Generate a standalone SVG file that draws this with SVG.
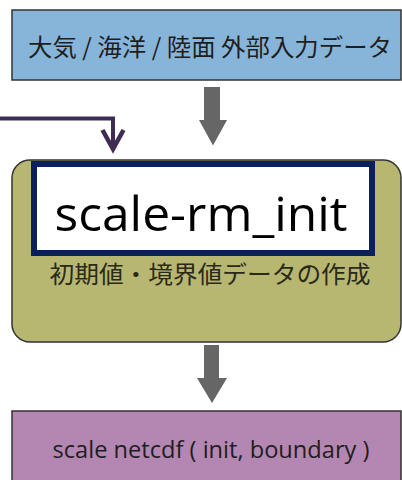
<svg xmlns="http://www.w3.org/2000/svg" width="402" height="480" viewBox="0 0 402 480">
  <style>
    .box { stroke: #333333; stroke-width: 1.5; }
    .jp { font-family: "Noto Sans CJK JP", "Noto Sans", sans-serif; }
    .lat { font-family: "Open Sans", "Liberation Sans", sans-serif; }
    .flow { fill: #666666; }
  </style>
  <rect width="402" height="480" fill="#ffffff"/>

  <g id="input-data">
    <rect class="box" x="12" y="10" width="389" height="70" fill="#87b5d9"/>
    <text class="jp" x="210" y="56" font-size="24" fill="#1e1e1e" text-anchor="middle" textLength="364" lengthAdjust="spacingAndGlyphs">大気 / 海洋 / 陸面 外部入力データ</text>
  </g>

  <g id="scale-rm-init">
    <rect class="box" x="12" y="160" width="389" height="182" rx="18" ry="18" fill="#b8b771"/>
    <rect x="34" y="164" width="338" height="89" fill="#ffffff" stroke="#0a205e" stroke-width="6"/>
    <text class="lat" x="201" y="231" font-size="47" fill="#000000" text-anchor="middle" textLength="293" lengthAdjust="spacingAndGlyphs">scale-rm_init</text>
    <text class="jp" x="210" y="283" font-size="24" fill="#2a2a18" text-anchor="middle" textLength="321" lengthAdjust="spacingAndGlyphs">初期値・境界値データの作成</text>
  </g>

  <g id="netcdf-output">
    <rect class="box" x="12" y="411" width="389" height="80" fill="#b487b3"/>
    <text class="lat" x="211" y="458" font-size="24" fill="#1e1e1e" text-anchor="middle" textLength="317" lengthAdjust="spacingAndGlyphs">scale netcdf ( init, boundary )</text>
  </g>

  <g id="connectors">
    <path class="flow" d="M204,87 H220 V120 H227 L213,145.5 L199,120 H204 Z"/>
    <path class="flow" d="M204,345 H219 V378 H227 L212,403 L197,378 H204 Z"/>
    <path d="M0,118.5 H113 V148" fill="none" stroke="#3e2c54" stroke-width="4"/>
    <path d="M102.5,130 L113,149 L123.5,130" fill="none" stroke="#3e2c54" stroke-width="4.5" stroke-linejoin="miter"/>
  </g>
</svg>
